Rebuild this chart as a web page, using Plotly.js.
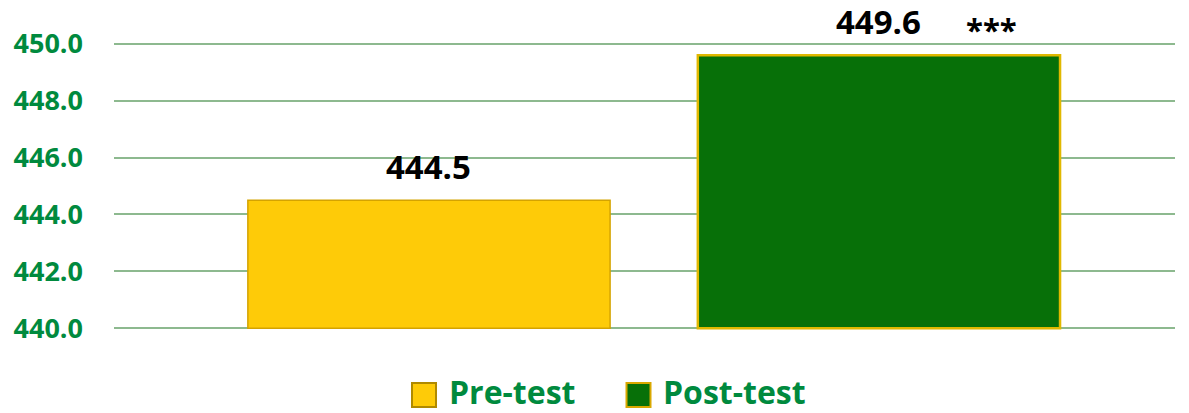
<!DOCTYPE html>
<html><head><meta charset="utf-8">
<script src="https://cdn.plot.ly/plotly-3.0.1.min.js"></script>
<style>html,body{margin:0;padding:0;background:#fff}#chart{width:1189px;height:413px}</style>
</head><body><div id="chart"></div>
<script>
const categories = ['Pre-test', 'Post-test'];
const scores = [444.5, 449.6];
const valueLabels = ['444.5', '449.6'];
const significance = '***';
const axisBase = 440;
const yTicks = [440, 442, 444, 446, 448, 450];
const fillColors = ['#FECB08', '#077008'];
const edgeColors = ['#D4A300', '#E0B800'];

const green = '#008A3E';
const font = 'Open Sans, Noto Sans, sans-serif';

const trace = {
  type: 'bar', x: categories, base: axisBase, y: scores.map(s => s - axisBase), width: 0.805,
  marker: {color: fillColors, line: {color: edgeColors, width: [1.5, 2.5]}},
  hoverinfo: 'none', showlegend: false
};

const annotations = categories.map((c, i) => ({
  x: c, y: scores[i], xref: 'x', yref: 'y', text: valueLabels[i], showarrow: false,
  yanchor: 'middle', yshift: 34, font: {family: font, size: 33, color: '#000', weight: 700}
}));
annotations.push({
  x: 1.251, y: scores[1], xref: 'x', yref: 'y', text: significance, showarrow: false,
  yanchor: 'middle', yshift: 26, font: {family: font, size: 31, color: '#000', weight: 700}
});

// plot area geometry (pixels)
const L = 114, W = 1061, T = 41, B = 331, H = B - T;
const px = v => (v - L) / W, py = v => (B - v) / H;
const legendY = py(391);
const swatchX = [424, 638.5];
const textX = [447, 661];
const shapes = categories.map((c, i) => ({
  type: 'rect', xref: 'paper', yref: 'paper', xsizemode: 'pixel', ysizemode: 'pixel',
  xanchor: px(swatchX[i]), yanchor: py(395), x0: -12, x1: 12, y0: -12, y1: 12,
  fillcolor: fillColors[i], line: {color: i === 0 ? '#B08A00' : '#D9A800', width: 2}
}));
categories.forEach((c, i) => annotations.push({
  x: px(textX[i]), y: legendY, xref: 'paper', yref: 'paper', xanchor: 'left', yanchor: 'middle',
  text: c, showarrow: false, font: {family: font, size: 32, color: green, weight: 700}
}));

const layout = {
  width: 1189, height: 413,
  margin: {l: L, r: 1189 - L - W, t: T, b: 413 - B},
  paper_bgcolor: '#fff', plot_bgcolor: '#fff',
  xaxis: {type: 'category', range: [-0.70, 1.658], showticklabels: false, showgrid: false,
          zeroline: false, showline: false, ticks: ''},
  yaxis: {range: [439.9, 450.1], tickvals: yTicks, tickformat: '.1f', showgrid: true,
          gridcolor: '#8DB98F', gridwidth: 2, zeroline: false, showline: false, ticks: '',
          ticklabelstandoff: 30,
          tickfont: {family: font, size: 27, color: green, weight: 700}},
  annotations, shapes, showlegend: false
};
Plotly.newPlot('chart', [trace], layout, {staticPlot: true, displayModeBar: false});
</script></body></html>
